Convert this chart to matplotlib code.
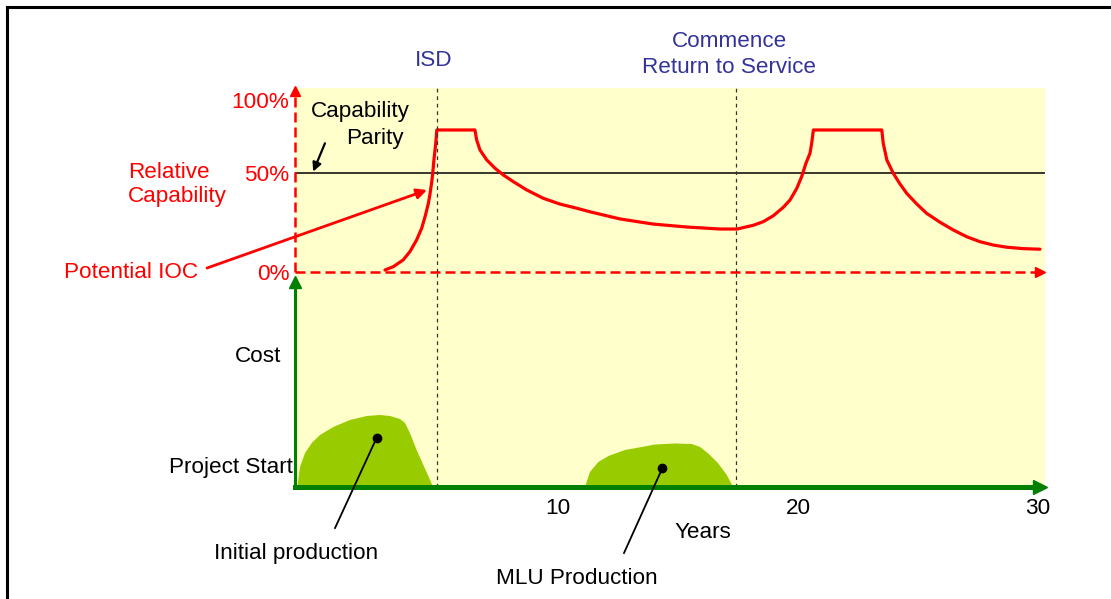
import matplotlib
matplotlib.use("Agg")
import matplotlib.pyplot as plt
from matplotlib.lines import Line2D

plt.rcParams['font.family'] = ['Liberation Sans', 'DejaVu Sans']

# relative capability curve (years, capability units; 50 = parity)
cap_years = [2.79, 3.14, 3.55, 3.83, 4.11, 4.32, 4.46, 4.6, 4.67, 4.74, 4.78, 4.83, 4.875, 4.92, 4.95,
             6.54, 6.61, 6.75, 7.03, 7.375, 7.72, 8.14, 8.7, 9.39, 10.08, 10.78, 11.33,
             12.58, 13.96, 15.38, 16.75, 17.46,
             18.14, 18.55, 18.97, 19.39, 19.67, 19.95, 20.15, 20.33, 20.5, 20.57, 20.64,
             23.49, 23.55, 23.7, 23.97, 24.25, 24.53, 24.95, 25.36, 25.92, 26.47, 27.03,
             27.58, 28.14, 28.7, 29.39, 30.08]
cap_values = [1, 2.7, 6.1, 10.3, 16.2, 22.1, 27.9, 34.7, 39.7, 45.6, 49.8, 56.6, 61.6, 66.7, 71.7,
              71.7, 66.7, 61.6, 56.6, 52.4, 49, 45.6, 41.4, 37.2, 34.3, 32.2, 30.4,
              26.8, 24.2, 22.7, 21.7, 21.7,
              23.6, 25.4, 28.4, 32.7, 36.4, 42.3, 48.1, 54.9, 60, 65, 71.7,
              71.7, 65, 56.6, 49.8, 44.4, 39.7, 34.3, 29.6, 25.1, 21.2, 17.8,
              15.3, 13.6, 12.5, 11.8, 11.5]
cap_ticks = [0, 50, 86.9]
cap_ticklabels = ["0%", "50%", "100%"]
parity = 50

# cost humps
initial_years = [-0.86, -0.75, -0.54, -0.26, 0.083, 0.64, 1.33, 2.03, 2.58, 3.0, 3.42, 3.625,
                 3.83, 4.11, 4.39, 4.67, 4.8]
initial_cost = [0, 20, 34, 44, 52, 60, 67, 71, 72, 71, 68, 64, 54, 37, 22, 7, 0]
mlu_years = [11.125, 11.33, 11.68, 12.1, 12.79, 13.49, 14.04, 14.875, 15.57, 15.92, 16.26,
             16.68, 17.03, 17.3]
mlu_cost = [0, 15, 25, 31, 37, 40, 42.5, 43.5, 43, 40, 33.5, 23.5, 12, 0]

year_ticks = [10, 20, 30]
isd_year = 4.96
rts_year = 17.42

W, H = 1111, 599
yellow = '#FFFFCC'
red = '#FF0000'
navy = '#333399'
dgreen = '#008000'
lgreen = '#99CC00'
fs = 16.2

fig = plt.figure(figsize=(W / 100, H / 100), dpi=100)
xmin, xmax = -0.958, 30.29
left, right = 295 / W, 1045 / W

ax_cost = fig.add_axes([left, (H - 487) / H, right - left, (487 - 272) / H])
ax_cap = fig.add_axes([left, (H - 272) / H, right - left, (272 - 88) / H])
ax_cap.set_zorder(2)

for ax in (ax_cap, ax_cost):
    ax.set_facecolor(yellow)
    ax.set_xlim(xmin, xmax)
    for s in ax.spines.values():
        s.set_visible(False)
ax_cap.set_ylim(0, 92.9)
ax_cost.set_ylim(0, 215)

# top: capability
ax_cap.axhline(parity, color='black', lw=1.1)
ax_cap.plot(cap_years, cap_values, color=red, lw=2.3, solid_capstyle='round', solid_joinstyle='round')
ax_cap.plot([xmin, xmin], [0, 91], color=red, lw=1.8, ls=(0, (4, 2)), clip_on=False)
ax_cap.plot([xmin], [91.5], marker='^', color=red, ms=7, clip_on=False)
ax_cap.plot([xmin, 30.0], [0, 0], color=red, lw=1.8, ls=(0, (4, 2)), clip_on=False)
ax_cap.plot([30.1], [0], marker='>', color=red, ms=7, clip_on=False)
ax_cap.set_xticks([])
ax_cap.set_yticks(cap_ticks)
ax_cap.set_yticklabels(cap_ticklabels, color=red, fontsize=fs)
ax_cap.tick_params(axis='y', length=0, pad=4)

for yr in (isd_year, rts_year):
    ax_cap.axvline(yr, color='#333333', lw=0.9, ls=(0, (3, 3)))
    ax_cost.axvline(yr, color='#333333', lw=0.9, ls=(0, (3, 3)))

ax_cap.text(4.83, 106.6, "ISD", color=navy, fontsize=fs, ha='center', va='center')
ax_cap.text(17.13, 116.2, "Commence", color=navy, fontsize=fs, ha='center', va='center')
ax_cap.text(17.13, 103.5, "Return to Service", color=navy, fontsize=fs, ha='center', va='center')
ax_cap.text(1.75, 80.8, "Capability", fontsize=fs, ha='center', va='center')
ax_cap.text(2.375, 67.2, "Parity", fontsize=fs, ha='center', va='center')
ax_cap.annotate("", xy=(-0.2, 50.7), xytext=(0.29, 65),
                arrowprops=dict(arrowstyle='-|>', color='black', lw=1.6, mutation_scale=13,
                                shrinkA=0, shrinkB=0))
ax_cap.text(-7.92, 50, "Relative", color=red, fontsize=fs, ha='left', va='center')
ax_cap.text(-7.92, 37.9, "Capability", color=red, fontsize=fs, ha='left', va='center')
ax_cap.text(-5.0, -0.5, "Potential IOC", color=red, fontsize=fs, ha='right', va='center')
ax_cap.annotate("", xy=(4.54, 41.4), xytext=(-4.625, 2.0), annotation_clip=False,
                arrowprops=dict(arrowstyle='-|>', color=red, lw=2.0, mutation_scale=15,
                                shrinkA=0, shrinkB=0))

# bottom: cost
ax_cost.fill(initial_years, initial_cost, color=lgreen, lw=0)
ax_cost.fill(mlu_years, mlu_cost, color=lgreen, lw=0)
ax_cost.plot([xmin, xmin], [0, 203], color=dgreen, lw=2.2, clip_on=False)
ax_cost.plot([xmin], [205], marker='^', color=dgreen, ms=8, clip_on=False)
ax_cost.plot([xmin, 30.0], [0, 0], color=dgreen, lw=3.6, clip_on=False)
ax_cost.plot([30.1], [0], marker='>', color=dgreen, ms=10, clip_on=False)
ax_cost.set_yticks([])
ax_cost.set_xticks(year_ticks)
ax_cost.set_xticklabels([str(t) for t in year_ticks], fontsize=fs)
ax_cost.tick_params(axis='x', length=0, pad=8)

ax_cost.text(16.04, -46, "Years", fontsize=fs, ha='center', va='center')
ax_cost.text(-1.54, 131, "Cost", fontsize=fs, ha='right', va='center')
ax_cost.text(-1.04, 19, "Project Start", fontsize=fs, ha='right', va='center')

ax_cost.plot([2.44, 0.71], [49, -41], color='black', lw=1.3, clip_on=False)
ax_cost.plot([2.44], [49], marker='o', color='black', ms=6)
ax_cost.text(-0.92, -66, "Initial production", fontsize=fs, ha='center', va='center')
ax_cost.plot([14.35, 12.75], [19, -66], color='black', lw=1.3, clip_on=False)
ax_cost.plot([14.35], [19], marker='o', color='black', ms=6)
ax_cost.text(10.79, -92, "MLU Production", fontsize=fs, ha='center', va='center')

# page frame
fig.add_artist(Line2D([7 / W, 7 / W], [0, 1 - 7 / H], color='black', lw=2.2))
fig.add_artist(Line2D([7 / W, 1], [1 - 7 / H, 1 - 7 / H], color='black', lw=2.2))

fig.savefig("out.png", dpi=100)
